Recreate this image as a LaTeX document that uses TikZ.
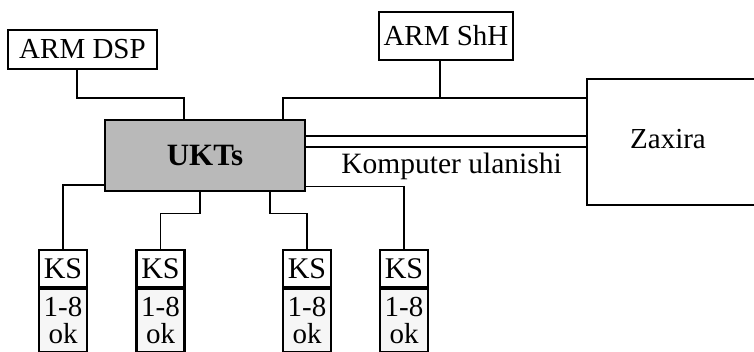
\documentclass[tikz,border=0pt]{standalone}
\usepackage{fontspec}
\setmainfont{Liberation Serif}
\usetikzlibrary{positioning}

\begin{document}
\begin{tikzpicture}[x=1pt, y=-1pt,
		armbox/.style={draw, line width=1.6pt, inner sep=1pt, font=\fontsize{29}{29}\selectfont},
		ukbox/.style={draw, line width=2.6pt, fill=gray!55, inner sep=1pt, font=\bfseries\fontsize{31}{31}\selectfont},
		kscell/.style={draw, line width=2.2pt, minimum width=48, minimum height=37, inner sep=0.5pt, font=\fontsize{30}{30}\selectfont},
		ksnum/.style={kscell, fill=gray!7, minimum height=63, align=center, font=\fontsize{29}{27}\selectfont},
		link/.style={line width=1.6pt}]
					%%% Cornice
					\useasboundingbox (0,0) rectangle (754,351);
					\clip (0,0) rectangle (754,351);
					
					%%% Punti di riferimento
					\coordinate (bus) at (0,98);		% linea superiore
					\coordinate (ln1) at (0,136);		% prima linea verso Zaxira
					\coordinate (ln2) at (0,147);		% seconda linea verso Zaxira
					
					%%% Blocchi
					\node [armbox, minimum width=149, minimum height=39] (dsp) at (82.5,49.5) {ARM DSP};
					\node [armbox, minimum width=134, minimum height=48] (shh) at (446,36) {ARM ShH};
					\node [ukbox, minimum width=200, minimum height=71] (ukts) at (205,155.5) {UKTs};
					\node [draw, line width=1.6pt, minimum width=183, minimum height=126] (zax) at (678.5,142) {};
					\node [anchor=base, font=\fontsize{29}{29}\selectfont] (zaxlbl) at (668,148) {Zaxira};
					\node [anchor=base, font=\fontsize{29.5}{29.5}\selectfont] (kom) at (451.5,173) {Komputer ulanishi};
					
					%%% Stazioni KS
					\node [kscell] (ks1) at (63,268.5) {KS};
					\node [ksnum, below=0pt of ks1] (ks1b) {1-8\\ok};
					\node [kscell] (ks2) at (160.5,268.5) {KS};
					\node [ksnum, below=0pt of ks2] (ks2b) {1-8\\ok};
					\node [kscell] (ks3) at (307,268.5) {KS};
					\node [ksnum, below=0pt of ks3] (ks3b) {1-8\\ok};
					\node [kscell] (ks4) at (404,268.5) {KS};
					\node [ksnum, below=0pt of ks4] (ks4b) {1-8\\ok};
					
					%%% Collegamenti
					\draw[link] ([xshift=-5.5]dsp.south) |- (bus -| 130,0) -| ([xshift=-21]ukts.north);
					\draw[link] ([xshift=78]ukts.north) |- (zax.west |- bus);
					\draw[link] ([xshift=-6]shh.south) -- ([xshift=-6]shh.south |- bus);
					\draw[link] (ukts.east |- ln1) -- (zax.west |- ln1);
					\draw[link] (ukts.east |- ln2) -- (zax.west |- ln2);
					\draw[link] ([yshift=-29.5]ukts.west) -| (ks1.north);
					\draw[link] ([xshift=-5]ukts.south) -- ++(0,21) -| (ks2.north);
					\draw[link] ([xshift=65]ukts.south) -- ++(0,21) -| (ks3.north);
					\draw[link] ([yshift=-31]ukts.east) -| (ks4.north);
				\end{tikzpicture}
\end{document}
